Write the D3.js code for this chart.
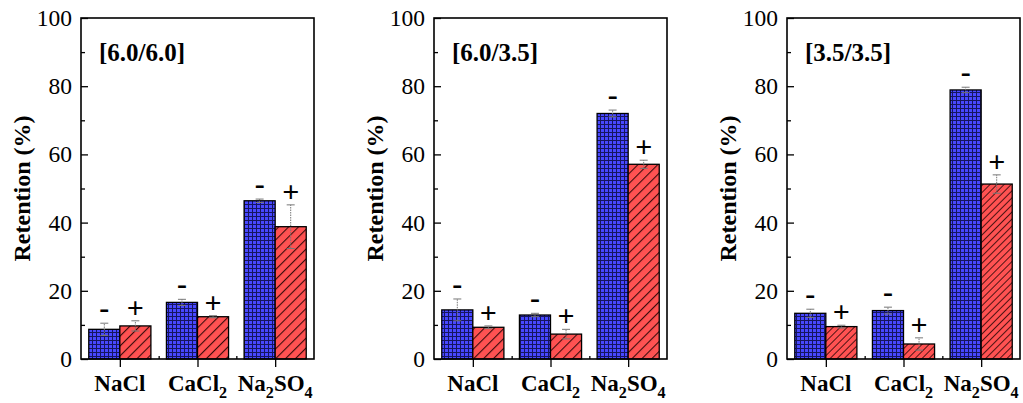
<!DOCTYPE html>
<meta charset="utf-8">
<head>
<style>
body { margin: 0; background: #fff; }
text { font-family: "Liberation Serif", "Times New Roman", serif; fill: #000; }
.lbl { font-weight: bold; }
</style>
</head>
<body>
<script src="https://cdnjs.cloudflare.com/ajax/libs/d3/7.8.5/d3.min.js"></script>
<script>
//---------------------------DATA-------------------------------//
var salts = ["NaCl", "CaCl2", "Na2SO4"];
var panelNames = ["[6.0/6.0]", "[6.0/3.5]", "[3.5/3.5]"];
// "-" membrane (blue, grid) and "+" membrane (red, hatched)
var negValues = [[8.7, 16.6, 46.4], [14.4, 12.9, 72.0], [13.4, 14.2, 78.9]];
var negErrors = [[1.8, 0.9, 0.5], [3.2, 0.5, 1.0], [1.2, 1.0, 0.8]];
var posValues = [[9.7, 12.4, 38.8], [9.3, 7.3, 57.1], [9.5, 4.4, 51.3]];
var posErrors = [[1.5, 0.3, 6.4], [0.4, 1.4, 1.2], [0.4, 1.8, 2.7]];
var yTicks = [0, 20, 40, 60, 80, 100];
var yMinorTicks = [10, 30, 50, 70, 90];
var yTitle = "Retention (%)";

//---------------------------LAYOUT-----------------------------//
var W = 1023, H = 403;
var panelLeft = [81, 434, 787];
var hatchGap = [7, 7, 5];
var panelW = 233;
var plotTop = 18, plotBottom = 359;
var barW = 0.4;

var svg = d3.select("body").append("svg")
    .attr("width", W).attr("height", H);

svg.append("rect").attr("width", W).attr("height", H).attr("fill", "#fff");

var defs = svg.append("defs");
// blue grid pattern
var pg = defs.append("pattern").attr("id", "grid")
    .attr("patternUnits", "userSpaceOnUse")
    .attr("width", 4).attr("height", 4);
pg.append("rect").attr("width", 4).attr("height", 4).attr("fill", "#4848ff");
pg.append("path").attr("d", "M0,0.5H4M0.5,0V4")
    .attr("stroke", "#161660").attr("stroke-width", 1);
// red hatch patterns, one per panel
hatchGap.forEach(function(gap, p) {
    var ph = defs.append("pattern").attr("id", "hatch" + p)
        .attr("patternUnits", "userSpaceOnUse")
        .attr("width", gap).attr("height", gap)
        .attr("patternTransform", "rotate(45)");
    ph.append("rect").attr("width", gap).attr("height", gap).attr("fill", "#ff5252");
    ph.append("line").attr("x1", 0).attr("y1", 0).attr("x2", 0).attr("y2", gap)
        .attr("stroke", "#3a0c0c").attr("stroke-width", gap < 6 ? 1.8 : 2.2);
});

var y = d3.scaleLinear().domain([0, 100]).range([plotBottom, plotTop]);

function subText(sel, s, size) {
    // digits become subscripts
    s.split(/(\d+)/).forEach(function(part, i) {
        if (!part) return;
        if (i % 2 === 1) {
            sel.append("tspan").attr("font-size", size * 0.7).attr("dy", 7).text(part);
        } else {
            var t = sel.append("tspan").text(part);
            if (i > 0) t.attr("dy", -7);
        }
    });
}

panelNames.forEach(function(name, p) {
    var x = d3.scaleLinear().domain([0.5, 3.5]).range([panelLeft[p], panelLeft[p] + panelW]);
    var g = svg.append("g");

    // bars
    var groups = salts.map(function(s, i) {
        return [
            {c: i + 1, off: -barW, v: negValues[p][i], e: negErrors[p][i], fill: "url(#grid)", sign: "-"},
            {c: i + 1, off: 0, v: posValues[p][i], e: posErrors[p][i], fill: "url(#hatch" + p + ")", sign: "+"}
        ];
    });
    var bars = [].concat.apply([], groups);

    g.selectAll(".bar").data(bars).enter().append("rect")
        .attr("class", "bar")
        .attr("x", function(d) { return x(d.c + d.off); })
        .attr("width", function(d) { return x(d.c + d.off + barW) - x(d.c + d.off); })
        .attr("y", function(d) { return y(d.v); })
        .attr("height", function(d) { return y(0) - y(d.v); })
        .attr("fill", function(d) { return d.fill; })
        .attr("stroke", "#000").attr("stroke-width", 1.3);

    // error bars
    var eb = g.selectAll(".err").data(bars).enter().append("g").attr("class", "err");
    eb.append("line")
        .attr("x1", function(d) { return x(d.c + d.off + barW / 2); })
        .attr("x2", function(d) { return x(d.c + d.off + barW / 2); })
        .attr("y1", function(d) { return y(d.v - d.e); })
        .attr("y2", function(d) { return y(d.v + d.e); })
        .attr("stroke", "#777").attr("stroke-width", 1).attr("stroke-dasharray", "1.5,1");
    eb.append("line")
        .attr("x1", function(d) { return x(d.c + d.off + barW / 2) - 4; })
        .attr("x2", function(d) { return x(d.c + d.off + barW / 2) + 4; })
        .attr("y1", function(d) { return y(d.v + d.e); })
        .attr("y2", function(d) { return y(d.v + d.e); })
        .attr("stroke", "#777").attr("stroke-width", 1);
    eb.append("line")
        .attr("x1", function(d) { return x(d.c + d.off + barW / 2) - 4; })
        .attr("x2", function(d) { return x(d.c + d.off + barW / 2) + 4; })
        .attr("y1", function(d) { return y(d.v - d.e); })
        .attr("y2", function(d) { return y(d.v - d.e); })
        .attr("stroke", "#777").attr("stroke-width", 1);

    // sign labels
    g.selectAll(".sign").data(bars).enter().append("text")
        .attr("class", "lbl")
        .attr("x", function(d) { return x(d.c + d.off + barW / 2); })
        .attr("y", function(d) { return y(d.v + d.e) - (d.sign === "-" ? 5 : 3); })
        .attr("text-anchor", "middle")
        .attr("font-size", 30)
        .text(function(d) { return d.sign; });

    // frame
    g.append("rect")
        .attr("x", panelLeft[p]).attr("y", plotTop)
        .attr("width", panelW).attr("height", plotBottom - plotTop)
        .attr("fill", "none").attr("stroke", "#000").attr("stroke-width", 1.6);

    // y axis (ticks inward)
    g.append("g").attr("transform", "translate(" + panelLeft[p] + ",0)")
        .call(d3.axisRight(y).tickValues(yTicks).tickSize(7).tickFormat(""))
        .call(function(a) { a.select(".domain").remove(); a.selectAll("line").attr("stroke-width", 1.3); });
    g.append("g").attr("transform", "translate(" + panelLeft[p] + ",0)")
        .call(d3.axisRight(y).tickValues(yMinorTicks).tickSize(4).tickFormat(""))
        .call(function(a) { a.select(".domain").remove(); a.selectAll("line").attr("stroke-width", 1.3); });
    g.selectAll(".ytl").data(yTicks).enter().append("text")
        .attr("x", panelLeft[p] - 9)
        .attr("y", function(d) { return y(d) + 8; })
        .attr("text-anchor", "end")
        .attr("font-size", 23.5)
        .text(function(d) { return d; });

    // x axis: major ticks outward, minor inward
    g.append("g").attr("transform", "translate(0," + plotBottom + ")")
        .call(d3.axisBottom(x).tickValues([1, 2, 3]).tickSize(8).tickFormat(""))
        .call(function(a) { a.select(".domain").remove(); a.selectAll("line").attr("stroke-width", 1.3); });
    g.append("g").attr("transform", "translate(0," + plotBottom + ")")
        .call(d3.axisTop(x).tickValues([1.5, 2.5]).tickSize(3).tickFormat(""))
        .call(function(a) { a.select(".domain").remove(); a.selectAll("line").attr("stroke-width", 1.3); });

    salts.forEach(function(s, i) {
        var t = g.append("text").attr("class", "lbl")
            .attr("x", x(i + 1)).attr("y", 391)
            .attr("text-anchor", "middle")
            .attr("font-size", 23);
        subText(t, s, 23);
    });

    // y title
    g.append("text").attr("class", "lbl")
        .attr("transform", "translate(" + (panelLeft[p] - 51) + "," + ((plotTop + plotBottom) / 2) + ") rotate(-90)")
        .attr("text-anchor", "middle")
        .attr("font-size", 24)
        .text(yTitle);

    // panel name
    g.append("text").attr("class", "lbl")
        .attr("x", panelLeft[p] + 18).attr("y", 61)
        .attr("font-size", 25)
        .text(name);
});
</script>
</body>
</html>
